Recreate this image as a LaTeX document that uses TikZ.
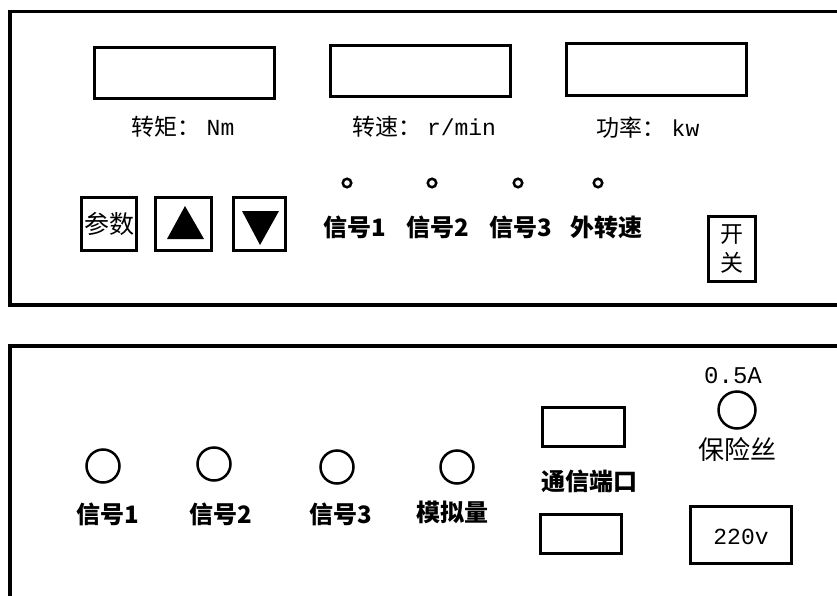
\documentclass[tikz,border=0pt]{standalone}
\usepackage{fontspec}
\setmainfont{Liberation Mono}
\newfontfamily\cjk{Noto Sans CJK SC}
\begin{document}
\begin{tikzpicture}[x=1pt,y=-1pt,
  frame/.style={line width=3.5pt},
  box/.style={draw,line width=3pt,inner sep=0pt},
  led/.style={draw,circle,line width=2.5pt,minimum size=8.5pt,inner sep=0pt},
  jack/.style={draw,circle,line width=2.5pt,minimum size=33pt,inner sep=0pt},
  lbl/.style={inner sep=0pt,font=\fontsize{23}{26}\selectfont},
  blbl/.style={inner sep=0pt,font=\cjk\bfseries\fontsize{24}{26}\selectfont}]
\useasboundingbox (0,0) rectangle (837,596);
% panels
\draw[frame] (837,11.5) -- (10,11.5) -- (10,305) -- (837,305);
\draw[frame] (837,346) -- (10,346) -- (10,596);
% displays
\node[box,minimum width=180pt,minimum height=51pt] (d1) at (184.5,73) {};
\node[box,minimum width=180pt,minimum height=51pt] (d2) at (420.5,71) {};
\node[box,minimum width=180pt,minimum height=52pt] (d3) at (656.5,69.5) {};
\node[lbl] (l1) at (183,127) {{\cjk 转矩：}\hspace{6pt}Nm};
\node[lbl] (l2) at (424,127) {{\cjk 转速：}\hspace{6pt}r/min};
\node[lbl] (l3) at (648,128) {{\cjk 功率：}\hspace{6pt}kw};
% leds
\node[led] (e1) at (347,183) {};
\node[led] (e2) at (432,183) {};
\node[led] (e3) at (518,183) {};
\node[led] (e4) at (598,183) {};
\node[blbl] (s1) at (355,227) {信号1};
\node[blbl] (s2) at (438,227) {信号2};
\node[blbl] (s3) at (521,227) {信号3};
\node[blbl] (s4) at (606,227) {外转速};
% buttons
\node[box,minimum width=55pt,minimum height=53pt] (bp) at (109,224) {};
\node[lbl,font=\cjk\fontsize{25}{26}\selectfont] (bpt) at (109,224) {参数};
\node[box,minimum width=56pt,minimum height=53pt] (bu) at (183.5,224) {};
\node[box,minimum width=52pt,minimum height=53pt] (bd) at (259.5,224) {};
\fill (185,206) -- (167,239) -- (204,239) -- cycle;
\fill (242,211) -- (279,211) -- (260,245) -- cycle;
\node[box,minimum width=47pt,minimum height=65pt] (sw) at (732,249) {};
\node[lbl,font=\cjk\fontsize{23}{29}\selectfont,align=center] (swt) at (732,249) {开\\关};
% rear panel
\node[jack] (j1) at (103,466) {};
\node[jack] (j2) at (214,464) {};
\node[jack] (j3) at (337,467) {};
\node[jack] (j4) at (457,467) {};
\node[blbl] (r1) at (108,514) {信号1};
\node[blbl] (r2) at (221,514) {信号2};
\node[blbl] (r3) at (341,514) {信号3};
\node[blbl] (r4) at (452,512) {模拟量};
\node[box,minimum width=82pt,minimum height=39pt] (p1) at (583.5,427) {};
\node[box,minimum width=81pt,minimum height=39pt] (p2) at (581,534) {};
\node[blbl] (pt) at (589,481) {通信端口};
\node[lbl,font=\fontsize{24}{26}\selectfont] (fa) at (733,376) {0.5A};
\node[draw,circle,line width=2.5pt,minimum size=37pt,inner sep=0pt] (fu) at (737,410) {};
\node[lbl,font=\cjk\fontsize{26}{28}\selectfont] (ft) at (737,450) {保险丝};
\node[box,minimum width=101pt,minimum height=57pt] (pw) at (741,535) {};
\node[lbl] (pwt) at (741,537) {220v};
\end{tikzpicture}
\end{document}
